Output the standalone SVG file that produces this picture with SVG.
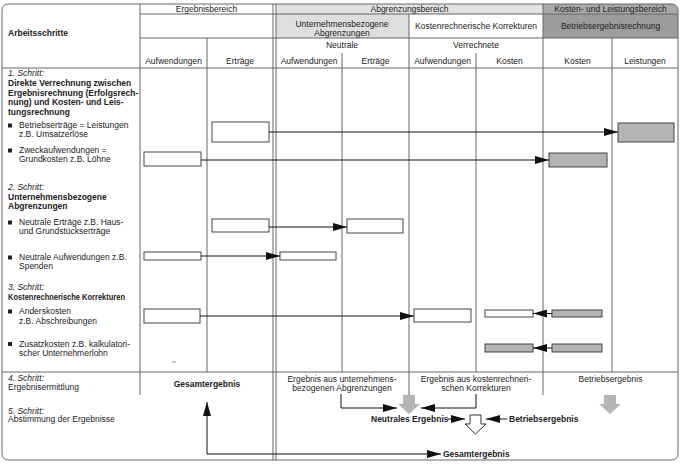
<svg xmlns="http://www.w3.org/2000/svg" width="682" height="464" viewBox="0 0 682 464">
<defs>
<marker id="ah" markerUnits="userSpaceOnUse" markerWidth="14" markerHeight="8" refX="14" refY="4" orient="auto-start-reverse"><path d="M0,0 L14,4 L0,8 z" fill="#111"/></marker>
<clipPath id="fr"><rect x="2" y="4" width="676" height="456" rx="6"/></clipPath>
<style>
text{font-family:"Liberation Sans",Arial,sans-serif;font-size:8.5px;fill:#222}
.b{font-weight:bold}
.i{font-style:italic}
.m{text-anchor:middle}
.g{stroke:#666;stroke-width:1;fill:none}
.c{stroke:#111;stroke-width:1;fill:none}
.wb{fill:#fff;stroke:#444;stroke-width:1}
.gb{fill:#b3b3b3;stroke:#444;stroke-width:1}
.ga{fill:#b5b5b5}
.bl{fill:#222}
</style>
</defs>
<rect x="0" y="0" width="682" height="464" fill="#fff"/>
<g id="header-fills" clip-path="url(#fr)">
<rect x="276" y="4" width="267" height="10" fill="#e2e2e2"/>
<rect x="276" y="14" width="133" height="24" fill="#dedede"/>
<rect x="543" y="4" width="135" height="10" fill="#a9a9a9"/>
<rect x="543" y="14" width="135" height="24" fill="#9c9c9c"/>
</g>
<g id="grid" class="g">
<rect x="2" y="4" width="676" height="456" rx="6"/>
<path d="M140,14 H678 M140,38 H678 M2,68 H678 M2,372 H678"/>
<path d="M140,4 V395 M207,38 V372 M273,4 V460 M276,4 V460 M342,53 V372 M409,14 V396 M476,53 V372 M543,4 V395 M612,38 V372"/>
<path d="M172,362 H176" stroke="#999"/>
</g>
<g id="header-texts">
<text x="8" y="36" class="b">Arbeitsschritte</text>
<text x="206.5" y="11.5" class="m">Ergebnisbereich</text>
<text x="409.5" y="11.5" class="m">Abgrenzungsbereich</text>
<text x="610.5" y="11.5" class="m">Kosten- und Leistungsbereich</text>
<text x="342" y="27" class="m">Unternehmensbezogene</text>
<text x="342" y="35.5" class="m">Abgrenzungen</text>
<text x="476" y="28.5" class="m">Kostenrechnerische Korrekturen</text>
<text x="610.5" y="28.5" class="m">Betriebsergebnisrechnung</text>
<text x="342" y="47.5" class="m">Neutrale</text>
<text x="476" y="47.5" class="m">Verrechnete</text>
<text x="173.5" y="63.5" class="m">Aufwendungen</text>
<text x="240" y="63.5" class="m">Erträge</text>
<text x="309" y="63.5" class="m">Aufwendungen</text>
<text x="375.5" y="63.5" class="m">Erträge</text>
<text x="442.5" y="63.5" class="m">Aufwendungen</text>
<text x="509.5" y="63.5" class="m">Kosten</text>
<text x="577.5" y="63.5" class="m">Kosten</text>
<text x="645" y="63.5" class="m">Leistungen</text>
</g>
<g id="steps">
<text x="8" y="76" class="i">1. Schritt:</text>
<text x="8" y="86" class="b">Direkte Verrechnung zwischen</text>
<text x="8" y="95.5" class="b">Ergebnisrechnung (Erfolgsrech-</text>
<text x="8" y="105" class="b">nung) und Kosten- und Leis-</text>
<text x="8" y="114.5" class="b">tungsrechnung</text>
<rect x="8" y="123.5" width="4" height="4" class="bl"/>
<text x="19" y="128">Betriebserträge = Leistungen</text>
<text x="19" y="137">z.B. Umsatzerlöse</text>
<rect x="8" y="148.5" width="4" height="4" class="bl"/>
<text x="19" y="153">Zweckaufwendungen =</text>
<text x="19" y="162">Grundkosten z.B. Löhne</text>
<text x="8" y="190" class="i">2. Schritt:</text>
<text x="8" y="200" class="b">Unternehmensbezogene</text>
<text x="8" y="208.5" class="b">Abgrenzungen</text>
<rect x="8" y="220.5" width="4" height="4" class="bl"/>
<text x="19" y="225">Neutrale Erträge z.B. Haus-</text>
<text x="19" y="234">und Grundstückserträge</text>
<rect x="8" y="255.5" width="4" height="4" class="bl"/>
<text x="19" y="260">Neutrale Aufwendungen z.B.</text>
<text x="19" y="268.5">Spenden</text>
<text x="8" y="290" class="i">3. Schritt:</text>
<text x="8" y="300" class="b" textLength="117" lengthAdjust="spacingAndGlyphs">Kostenrechnerische Korrekturen</text>
<rect x="8" y="309.5" width="4" height="4" class="bl"/>
<text x="19" y="314">Anderskosten</text>
<text x="19" y="323.5">z.B. Abschreibungen</text>
<rect x="8" y="342" width="4" height="4" class="bl"/>
<text x="19" y="346.5">Zusatzkosten z.B. kalkulatori-</text>
<text x="19" y="355.5">scher Unternehmerlohn</text>
<text x="8" y="381" class="i">4. Schritt:</text>
<text x="8" y="390">Ergebnisermittlung</text>
<text x="8" y="413.5" class="i">5. Schritt:</text>
<text x="8" y="422">Abstimmung der Ergebnisse</text>
</g>
<g id="results">
<text x="207" y="387" class="m b">Gesamtergebnis</text>
<text x="342" y="382" class="m">Ergebnis aus unternehmens-</text>
<text x="342" y="391" class="m">bezogenen Abgrenzungen</text>
<text x="476" y="382" class="m">Ergebnis aus kostenrechneri-</text>
<text x="476" y="391" class="m">schen Korrekturen</text>
<text x="610.5" y="382" class="m">Betriebsergebnis</text>
<text x="371" y="422" class="b">Neutrales Ergebnis</text>
<text x="509" y="422" class="b">Betriebsergebnis</text>
<text x="443" y="457" class="b">Gesamtergebnis</text>
</g>
<g id="n-betriebsertraege"><rect x="212" y="122" width="57" height="20" class="wb"/></g>
<g id="n-leistungen"><rect x="618" y="123" width="56" height="19" class="gb"/></g>
<g id="n-zweckaufwendungen"><rect x="144" y="152" width="57" height="14" class="wb"/></g>
<g id="n-grundkosten"><rect x="549" y="153" width="58" height="14" class="gb"/></g>
<g id="n-neutrale-ertraege"><rect x="212" y="219" width="57" height="13" class="wb"/></g>
<g id="n-neutrale-ertraege-abgr"><rect x="347" y="219" width="56" height="14" class="wb"/></g>
<g id="n-neutrale-aufw"><rect x="144" y="252" width="57" height="8" class="wb"/></g>
<g id="n-neutrale-aufw-abgr"><rect x="280" y="252" width="56" height="8" class="wb"/></g>
<g id="n-anderskosten"><rect x="144" y="309" width="56" height="14" class="wb"/></g>
<g id="n-anderskosten-verr"><rect x="414" y="309" width="57" height="13" class="wb"/></g>
<g id="n-anderskosten-kosten"><rect x="485" y="310" width="48" height="7" class="wb"/></g>
<g id="n-anderskosten-ber"><rect x="552" y="310" width="50" height="7" class="gb"/></g>
<g id="n-zusatzkosten-kosten"><rect x="485" y="344" width="48" height="8" class="gb"/></g>
<g id="n-zusatzkosten-ber"><rect x="552" y="344" width="50" height="8" class="gb"/></g>
<g id="n-arrow-neutral"><polygon points="403,395 415,395 415,404 420,404 409,414 398,404 403,404" class="ga"/></g>
<g id="n-arrow-betrieb"><polygon points="604,395 616,395 616,404 621,404 610,414 599,404 604,404" class="ga"/></g>
<g id="n-arrow-gesamt"><polygon points="470,415 481,415 481,424 486,424 475.5,434 465,424 470,424" fill="#fff" stroke="#333" stroke-width="1"/></g>
<g id="connectors" class="c">
<path d="M269,132 H618" marker-end="url(#ah)"/>
<path d="M201,160 H549" marker-end="url(#ah)"/>
<path d="M269,227 H347" marker-end="url(#ah)"/>
<path d="M201,256 H280" marker-end="url(#ah)"/>
<path d="M200,316 H414" marker-end="url(#ah)"/>
<path d="M552,313.5 H533" marker-end="url(#ah)"/>
<path d="M552,348 H533" marker-end="url(#ah)"/>
<path d="M341,394 V408 H397" marker-end="url(#ah)"/>
<path d="M476,394 V408 H421" marker-end="url(#ah)"/>
<path d="M448,419 H465" marker-end="url(#ah)"/>
<path d="M507,419 H486" marker-end="url(#ah)"/>
<path d="M207,402 V454 H441" marker-start="url(#ah)" marker-end="url(#ah)"/>
</g>
</svg>
